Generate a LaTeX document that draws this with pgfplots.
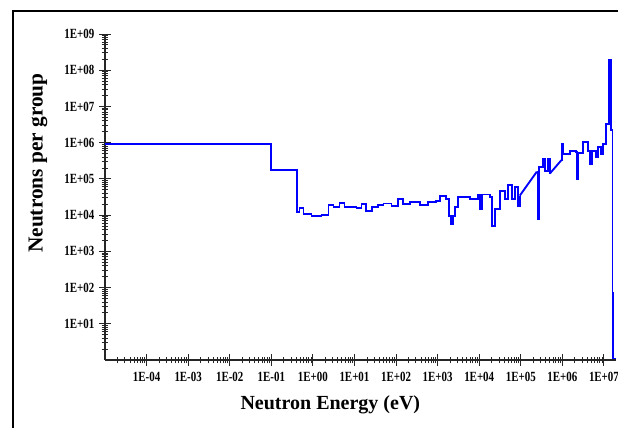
\documentclass[border=0pt]{standalone}
\usepackage{fontspec}
\setmainfont{Liberation Serif}
\newfontfamily\ticklab[FakeStretch=0.78]{Liberation Serif}
\usepackage{pgfplots}
\pgfplotsset{compat=1.18}

\begin{document}
\begin{tikzpicture}
\path[use as bounding box] (0pt,0pt) rectangle (463.5pt,321pt);
\draw[line width=1.5pt] (9.75pt,312.75pt) rectangle (490pt,-20pt);
\begin{axis}[
  at={(78.75pt,51pt)}, anchor=south west,
  scale only axis, width=383.25pt, height=244.5pt,
  xmode=log, ymode=log,
  xmin=1e-5, xmax=1.95e7, ymin=1, ymax=1e9,
  axis lines=left, axis line style={-, line width=0.9pt, black!85},
  tick align=center,
  major tick length=9pt, minor tick length=5pt,
  every tick/.style={black!85, line width=0.7pt},
  xtick={1e-4,1e-3,1e-2,1e-1,1,10,100,1e3,1e4,1e5,1e6,1e7},
  xticklabels={1E-04,1E-03,1E-02,1E-01,1E+00,1E+01,1E+02,1E+03,1E+04,1E+05,1E+06,1E+07},
  ytick={10,100,1e3,1e4,1e5,1e6,1e7,1e8,1e9},
  yticklabels={1E+01,1E+02,1E+03,1E+04,1E+05,1E+06,1E+07,1E+08,1E+09},
  minor xtick={2e-5,3e-5,4e-5,5e-5,6e-5,7e-5,8e-5,9e-5,
    2e-4,3e-4,4e-4,5e-4,6e-4,7e-4,8e-4,9e-4,
    2e-3,3e-3,4e-3,5e-3,6e-3,7e-3,8e-3,9e-3,
    2e-2,3e-2,4e-2,5e-2,6e-2,7e-2,8e-2,9e-2,
    0.2,0.3,0.4,0.5,0.6,0.7,0.8,0.9,
    2,3,4,5,6,7,8,9,
    20,30,40,50,60,70,80,90,
    200,300,400,500,600,700,800,900,
    2e3,3e3,4e3,5e3,6e3,7e3,8e3,9e3,
    2e4,3e4,4e4,5e4,6e4,7e4,8e4,9e4,
    2e5,3e5,4e5,5e5,6e5,7e5,8e5,9e5,
    2e6,3e6,4e6,5e6,6e6,7e6,8e6,9e6},
  minor ytick={2,3,4,5,6,7,8,9,
    20,30,40,50,60,70,80,90,
    200,300,400,500,600,700,800,900,
    2e3,3e3,4e3,5e3,6e3,7e3,8e3,9e3,
    2e4,3e4,4e4,5e4,6e4,7e4,8e4,9e4,
    2e5,3e5,4e5,5e5,6e5,7e5,8e5,9e5,
    2e6,3e6,4e6,5e6,6e6,7e6,8e6,9e6,
    2e7,3e7,4e7,5e7,6e7,7e7,8e7,9e7,
    2e8,3e8,4e8,5e8,6e8,7e8,8e8,9e8},
  tick label style={font=\ticklab\bfseries\fontsize{10.5}{11}\selectfont},
  xticklabel style={yshift=-1pt},
  xlabel={Neutron Energy (eV)},
  ylabel={Neutrons per group},
  xlabel style={font=\bfseries\fontsize{15}{18}\selectfont, at={(axis description cs:0.441,-0.138)}, anchor=center},
  ylabel style={font=\bfseries\fontsize{16}{19}\selectfont, at={(axis description cs:-0.131,0.604)}, anchor=center},
]
% group-wise steps, thermal to intermediate range
\addplot[const plot, blue, line width=1.4pt] coordinates {
(1e-5,9.0e5) (0.1,1.77e5) (0.414,1.2e4) (0.475,1.6e4) (0.594,1.1e4)
(0.925,9.5e3) (1.61,1.0e4) (2.38,1.95e4) (3.13,1.7e4) (4.37,2.2e4)
(5.77,1.7e4) (11.2,1.6e4) (14.8,2.07e4) (18.5,1.33e4) (25.8,1.7e4)
(36,1.95e4) (50,2.1e4) (78,1.83e4) (109,2.85e4) (144,2.07e4)
(212,2.36e4) (369,1.95e4) (575,2.36e4) (897,2.5e4) (1120,3.45e4)
(1560,2.85e4) (1850,9.7e3) (2060,5.8e3) (2300,9.7e3) (2570,1.7e4)
(3040,3.2e4) (5920,2.85e4) (9200,3.7e4) (1.03e4,1.5e4) (1.15e4,3.7e4)
(1.79e4,3.2e4) (2.0e4,5.1e3) (2.37e4,1.5e4) (3.12e4,4.7e4) (4.12e4,2.85e4)
(4.86e4,6.9e4) (6.07e4,2.85e4) (7.16e4,6.1e4) (8.47e4,1.83e4) (9.46e4,3.45e4)
};
\addplot[blue, line width=1.4pt] coordinates {(9.46e4,3.45e4) (2.43e5,1.58e5)};
\addplot[const plot, blue, line width=1.4pt] coordinates {
(2.43e5,1.58e5) (2.57e5,8e3) (2.79e5,2.18e5) (3.39e5,3.6e5) (3.78e5,1.69e5)
(4.47e5,3.6e5) (4.99e5,1.4e5)
};
\addplot[blue, line width=1.4pt] coordinates {(4.99e5,1.4e5) (9.5e5,3.3e5)};
% fast range up to the source peak
\addplot[const plot, blue, line width=1.4pt] coordinates {
(9.5e5,3.3e5) (9.7e5,9.4e5) (1.06e6,5.0e5) (1.51e6,6.0e5) (2.11e6,5.6e5) (2.23e6,1.02e5)
(2.36e6,5.3e5) (3.11e6,1.07e6) (4.1e6,6.0e5) (4.59e6,2.63e5) (5.13e6,6.0e5)
(6.4e6,4.1e5) (7.15e6,7.8e5) (8.45e6,5.0e5) (9.44e6,9.4e5) (1.11e7,3.34e6)
(1.32e7,1.95e8) (1.47e7,2.2e6) (1.6e7,70) (1.68e7,1.1) (1.94e7,1.1)
};
\end{axis}
\end{tikzpicture}
\end{document}
